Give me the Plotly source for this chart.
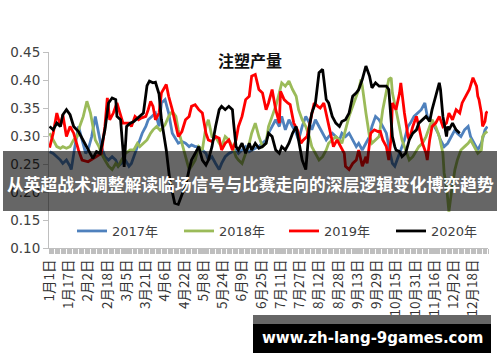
import plotly.graph_objects as go

# ---------------- data ----------------
tick_labels = ["1月1日", "1月17日", "2月2日", "2月18日", "3月5日", "3月21日", "4月6日", "4月22日",
               "5月8日", "5月24日", "6月9日", "6月25日", "7月11日", "7月27日", "8月12日", "8月28日",
               "9月13日", "9月29日", "10月15日", "10月31日", "11月16日", "12月2日", "12月18日"]
tick_days = [0, 16, 32, 48, 64, 80, 96, 112, 128, 144, 160, 176, 192, 208, 224, 240, 256, 272,
             288, 304, 320, 336, 352]

days_2017 = [0,3,6,9,11,14,17,18,21,24,27,30,32,35,38,41,43,46,49,52,55,57,60,63,66,68,71,74,77,80,
             82,85,88,91,93,96,99,102,105,107,110,113,116,118,121,124,127,130,132,135,138,141,143,146,
             149,152,155,157,160,163,166,168,171,174,177,180,182,185,188,191,193,196,199,202,205,207,
             210,213,216,218,221,224,227,230,232,235,238,241,243,246,249,252,255,257,260,263,266,268,
             271,274,277,280,282,285,287,289,292,295,298,300,303,306,309,312,314,317,320,323,325,328,
             331,334,337,339,342,345,348,350,353,356,359,362,364]
vals_2017 = [.272,.269,.263,.257,.251,.257,.246,.240,.281,.317,.293,.269,.275,.299,.335,.305,.281,.263,
             .257,.263,.257,.246,.251,.257,.246,.251,.269,.287,.305,.317,.329,.335,.341,.317,.359,.365,
             .341,.305,.293,.287,.290,.287,.281,.284,.281,.281,.275,.269,.257,.263,.251,.240,.251,.263,
             .269,.272,.275,.269,.275,.281,.272,.275,.278,.281,.287,.293,.305,.317,.329,.317,.335,.311,
             .329,.317,.305,.293,.317,.335,.323,.311,.329,.317,.305,.293,.299,.305,.299,.293,.305,.299,
             .305,.293,.281,.287,.275,.287,.299,.317,.335,.329,.317,.305,.281,.251,.246,.257,.275,.293,
             .317,.323,.335,.341,.347,.359,.335,.329,.317,.305,.293,.281,.287,.299,.311,.305,.299,.311,
             .317,.299,.287,.275,.287,.311,.317]

days_2018 = [0,3,6,9,11,14,17,20,23,25,28,31,34,36,38,41,43,46,49,52,55,57,60,63,67,70,73,75,78,81,
             84,86,89,92,96,99,102,105,107,110,113,116,118,121,124,127,130,132,135,138,141,143,146,149,
             152,155,157,160,163,166,168,171,174,177,180,182,185,188,191,193,196,199,202,205,207,210,
             213,216,218,221,224,227,230,232,235,238,241,243,246,249,252,255,257,259,260,263,266,268,
             271,274,277,280,282,284,285,288,291,293,296,299,302,305,307,310,313,316,318,321,324,327,
             328,330,331,332,334,337,339,342,345,348,350,353,356,359,360,362,364]
vals_2018 = [.305,.293,.281,.278,.281,.278,.281,.293,.299,.317,.335,.362,.341,.317,.293,.281,.269,.257,
             .246,.240,.251,.246,.257,.269,.275,.275,.287,.281,.287,.293,.305,.311,.317,.310,.320,.335,
             .344,.335,.311,.287,.263,.240,.246,.257,.281,.275,.317,.329,.299,.299,.287,.281,.299,.293,
             .281,.263,.257,.251,.269,.287,.305,.323,.299,.281,.287,.317,.335,.353,.377,.395,.389,.398,
             .383,.371,.347,.329,.317,.299,.281,.269,.257,.263,.275,.287,.293,.299,.293,.287,.311,.335,
             .353,.371,.383,.401,.389,.341,.299,.287,.293,.299,.347,.377,.401,.404,.377,.347,.317,.293,
             .275,.257,.263,.275,.281,.287,.299,.317,.329,.317,.299,.269,.234,.210,.180,.165,.198,.240,
             .257,.275,.281,.287,.293,.281,.269,.275,.299,.305,.308]

days_2019 = [0,3,6,9,11,14,17,20,24,27,32,38,43,46,48,50,53,56,59,61,66,68,71,74,76,80,82,84,86,88,
             91,93,97,99,102,105,107,110,113,116,118,121,124,127,130,132,135,138,141,143,146,149,152,
             155,157,160,163,166,168,171,174,177,180,182,185,188,191,192,195,198,200,203,206,209,211,
             214,217,220,223,225,228,231,234,236,239,242,245,246,249,252,255,257,260,263,264,267,270,
             273,275,277,280,281,282,284,285,288,291,292,295,298,299,302,305,307,310,313,314,316,318,
             321,324,327,330,332,335,338,341,343,346,349,352,355,356,357,359,360,362,363,364]
vals_2019 = [.279,.305,.341,.317,.338,.299,.317,.305,.275,.257,.254,.263,.269,.317,.368,.329,.341,.359,
             .335,.323,.323,.317,.335,.329,.332,.335,.347,.362,.353,.329,.341,.377,.392,.371,.347,.317,
             .299,.308,.329,.335,.353,.356,.347,.341,.305,.293,.290,.299,.296,.275,.287,.293,.275,.293,
             .317,.335,.365,.371,.407,.410,.383,.377,.347,.359,.383,.347,.323,.380,.365,.359,.356,.323,
             .311,.287,.293,.299,.329,.359,.353,.350,.359,.329,.305,.281,.293,.281,.269,.246,.240,.251,
             .257,.275,.246,.263,.251,.305,.311,.308,.308,.293,.281,.269,.257,.299,.359,.347,.377,.395,
             .341,.299,.293,.317,.335,.317,.287,.269,.257,.293,.317,.323,.335,.317,.323,.341,.329,.347,
             .341,.359,.371,.383,.404,.389,.371,.365,.341,.317,.326,.341,.344]

days_2020 = [0,3,6,9,11,14,17,20,24,29,34,36,39,42,46,49,52,55,56,59,61,62,64,67,70,73,75,78,81,83,
             86,88,91,93,97,100,104,107,110,113,116,118,121,124,127,130,132,135,138,141,143,146,149,
             152,153,155,157,160,163,166,168,171,174,177,180,182,185,188,191,193,196,199,202,205,207,
             210,213,214,216,218,221,224,227,228,230,232,235,238,241,243,246,249,252,255,257,260,263,
             266,268,271,274,277,280,282,284,285,287,288,291,293,296,299,302,305,307,310,313,316,318,
             321,324,325,327,330,331,332,335,338,341]
vals_2020 = [.317,.311,.323,.317,.338,.347,.338,.317,.308,.287,.266,.260,.272,.269,.311,.359,.368,.365,
             .335,.329,.275,.245,.317,.323,.326,.332,.335,.341,.390,.398,.395,.396,.375,.329,.275,.220,
             .180,.178,.195,.210,.240,.257,.269,.281,.257,.248,.257,.281,.317,.347,.353,.347,.353,.347,
             .323,.281,.275,.287,.269,.287,.275,.287,.278,.281,.287,.305,.299,.275,.269,.281,.275,.287,
             .305,.317,.293,.257,.240,.263,.317,.341,.359,.413,.419,.401,.365,.359,.335,.323,.317,.326,
             .329,.341,.371,.377,.383,.401,.425,.407,.386,.395,.389,.389,.389,.383,.335,.299,.281,.275,
             .272,.263,.269,.293,.305,.311,.323,.329,.335,.326,.347,.371,.395,.383,.335,.299,.317,.311,
             .323,.311,.305]

series_names = ["2017年", "2018年", "2019年", "2020年"]
series_colors = ["#4F81BD", "#9BBB59", "#FF0000", "#000000"]

title_text = "注塑产量"
banner_text = "从英超战术调整解读临场信号与比赛走向的深层逻辑变化博弈趋势"
watermark_text = "www.zh-lang-9games.com"

# ---------------- layout helpers ----------------
W, H = 500, 362
L, R, T, B = 49, 12, 52, 114
PW, PH = W - L - R, H - T - B


def px(x):
    return (x - L) / PW


def py(y):
    return (H - B - y) / PH


fig = go.Figure()
all_days = [days_2017, days_2018, days_2019, days_2020]
all_vals = [vals_2017, vals_2018, vals_2019, vals_2020]
legend_ids = ["legend", "legend2", "legend3", "legend4"]
for name, color, d, v, lg in zip(series_names, series_colors, all_days, all_vals, legend_ids):
    fig.add_trace(go.Scatter(x=d, y=v, mode="lines", name=name, legend=lg,
                             line=dict(color=color, width=2.8)))

axis_col = "#BFBFBF"
legend_font = dict(family="DejaVu Sans, Noto Sans CJK SC", size=13, color="#404040")
legend_x_px = [72, 179, 284, 391]
legends = {}
for lg, lx in zip(legend_ids, legend_x_px):
    legends[lg] = dict(orientation="h", x=px(lx), y=py(231), xanchor="left", yanchor="middle",
                       font=legend_font, bgcolor="rgba(0,0,0,0)")

fig.update_layout(
    width=W, height=H,
    margin=dict(l=L, r=R, t=T, b=B, pad=0),
    paper_bgcolor="white", plot_bgcolor="white",
    showlegend=True,
    xaxis=dict(range=[-0.5, 364.5], tickmode="array", tickvals=tick_days, ticktext=tick_labels,
               tickangle=-90, showgrid=False, zeroline=False, showline=True, linecolor=axis_col,
               ticks="outside", ticklen=5, tickcolor=axis_col, automargin=False,
               tickfont=dict(family="Noto Sans CJK SC", size=13.5, color="#333333"),
               minor=dict(tickmode="linear", tick0=-0.5, dtick=1, ticks="outside", ticklen=5,
                          tickcolor=axis_col, tickwidth=1, showgrid=False)),
    yaxis=dict(range=[0.10, 0.45], dtick=0.05, tick0=0.10, tickformat=".2f", showgrid=False,
               zeroline=False, showline=True, linecolor=axis_col, ticks="outside", ticklen=5,
               tickcolor=axis_col, automargin=False,
               tickfont=dict(family="DejaVu Sans", size=13.5, color="#404040")),
    **legends,
)

fig.add_annotation(text="<b>" + title_text + "</b>", xref="paper", yref="paper", x=px(250), y=py(60),
                   xanchor="center", yanchor="middle", showarrow=False,
                   font=dict(family="Noto Sans CJK SC", size=16, color="#111111"))

# overlay banner
fig.add_shape(type="rect", xref="paper", yref="paper", x0=px(3), x1=px(497), y0=py(211), y1=py(151),
              fillcolor="rgba(0,0,0,0.6)", line=dict(width=0), layer="above")
fig.add_annotation(text="<b>" + banner_text + "</b>", xref="paper", yref="paper", x=px(250), y=py(184),
                   xanchor="center", yanchor="middle", showarrow=False,
                   font=dict(family="Noto Sans CJK SC", size=16.8, color="white"))

# watermark box
fig.add_shape(type="rect", xref="paper", yref="paper", x0=px(253), x1=px(491), y0=py(324), y1=py(315),
              fillcolor="#666666", line=dict(width=0), layer="above")
fig.add_shape(type="rect", xref="paper", yref="paper", x0=px(253), x1=px(491), y0=py(353), y1=py(324),
              fillcolor="#000000", line=dict(width=0), layer="above")
fig.add_annotation(text="<b>" + watermark_text + "</b>", xref="paper", yref="paper", x=px(372), y=py(338),
                   xanchor="center", yanchor="middle", showarrow=False,
                   font=dict(family="DejaVu Sans", size=15, color="white"))

fig.write_html("out.html", config={"displayModeBar": False},
               post_script="document.body.style.margin='0px';")
